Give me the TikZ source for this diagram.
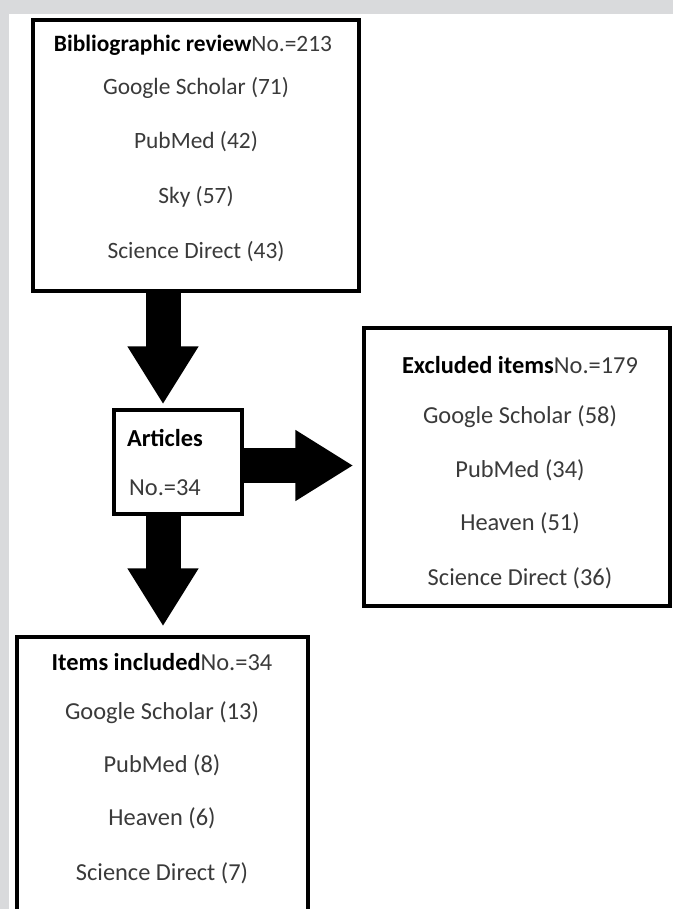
\documentclass[tikz,border=0pt]{standalone}
\usepackage{fontspec}
\setmainfont{Carlito}
\usetikzlibrary{arrows.meta}

\definecolor{rahmengrau}{HTML}{D9DADC}
\definecolor{textgrau}{HTML}{3A3A3A}

\begin{document}
\begin{tikzpicture}[x=0.5pt,y=-0.5pt,
        kasten/.style={draw,line width=1.7pt,inner sep=0pt,fill=white},
        eintrag/.style={text=textgrau,inner sep=0pt},
        klein/.style={font=\fontsize{11.7}{14}\selectfont},
        gross/.style={font=\fontsize{12.2}{14}\selectfont},
        blockpfeil/.style={line width=17.5pt,-{Triangle[length=29pt,width=33.5pt]}} % Blockpfeile
        ]
            % Hintergrund
            \clip (0,0) rectangle (673,909);
            \fill[rahmengrau] (0,0) rectangle (673,909);
            \fill[white] (9,14) rectangle (673,909);

            % Kaesten
            \node[kasten,minimum width=163pt,minimum height=135.5pt] (B1) at (196,155.5) {};
            \node[kasten,minimum width=64pt,minimum height=52pt] (A) at (178,462) {};
            \node[kasten,minimum width=153pt,minimum height=139pt] (B2) at (517,467) {};
            \node[kasten,minimum width=145.5pt,minimum height=149pt] (B3) at (162.5,786) {};

            % Texte
            \node[eintrag,klein] (B1-0) at (193,45) {\textbf{\color{black}Bibliographic review}No.=213};
            \foreach \t/\y [count=\i] in {Google Scholar (71)/88, PubMed (42)/142,
                    Sky (57)/197, Science Direct (43)/252}
                \node[eintrag,klein] (B1-\i) at (196,\y) {\t};

            \node[eintrag,gross] (A-1) at (165,438) {\textbf{\color{black}Articles}};
            \node[eintrag,gross] (A-2) at (165,488) {No.=34};

            \node[eintrag,gross] (B2-0) at (520,365) {\textbf{\color{black}Excluded items}No.=179};
            \foreach \t/\y [count=\i] in {Google Scholar (58)/417, PubMed (34)/470,
                    Heaven (51)/523, Science Direct (36)/578}
                \node[eintrag,gross] (B2-\i) at (520,\y) {\t};

            \node[eintrag,gross] (B3-0) at (162,662) {\textbf{\color{black}Items included}No.=34};
            \foreach \t/\y [count=\i] in {Google Scholar (13)/713, PubMed (8)/765,
                    Heaven (6)/818, Science Direct (7)/873}
                \node[eintrag,gross] (B3-\i) at (162,\y) {\t};

            % Pfeile
            \coordinate (P) at (163,0);
            \coordinate (Q) at (0,465.5);
            \draw[blockpfeil] (B1.south -| P) -- ([yshift=2pt]A.north -| P);
            \draw[blockpfeil] (A.east |- Q) -- ([xshift=-4.5pt]B2.west |- Q);
            \draw[blockpfeil] (A.south -| P) -- ([yshift=4.5pt]B3.north -| P);

        \end{tikzpicture}
\end{document}
